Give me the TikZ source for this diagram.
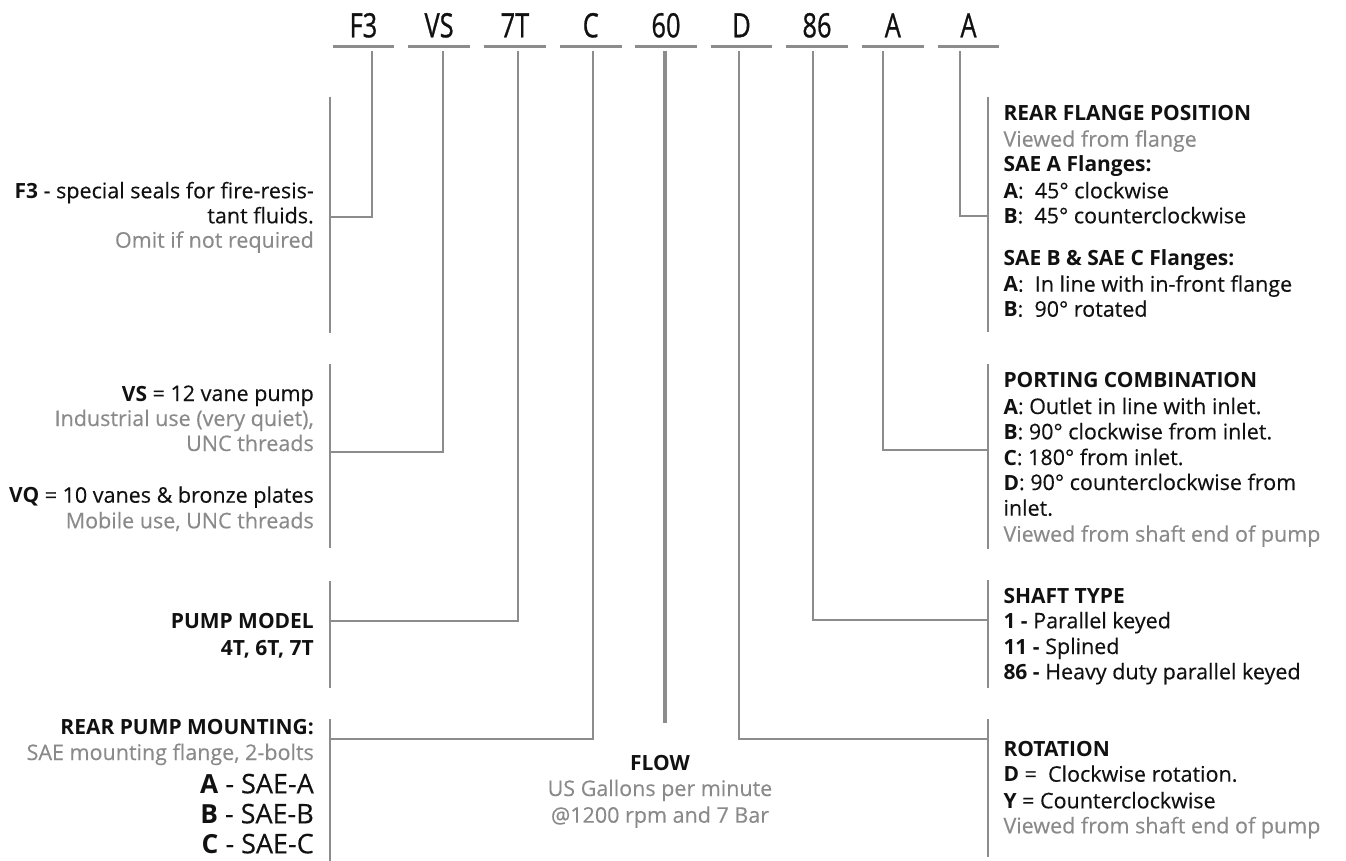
\documentclass[tikz,border=0pt]{standalone}
\usepackage{fontspec}
\setmainfont{Open Sans}[UprightFeatures={FakeBold=0.3}, BoldFeatures={Scale=0.975}]
\newfontfamily\codefont{Open Sans}[FakeBold=0.9]
\definecolor{ln}{HTML}{8C8C8C}
\definecolor{gt}{HTML}{8A8A8A}
\definecolor{bk}{HTML}{111111}
\newcommand{\cnd}[1]{\scalebox{0.76}[1]{#1}}
\tikzset{
  codetxt/.style={anchor=base, inner sep=0pt, text=bk, font=\codefont\fontsize{33.5}{33}\selectfont},
  uline/.style={draw=ln, line width=3pt},
  wire/.style={draw=ln, line width=2.2pt},
  fatwire/.style={draw=ln, line width=4pt},
  brk/.style={draw=ln, line width=2pt},
  lt/.style={anchor=base east, inner sep=0pt, text=bk, font=\fontsize{21.5}{26}\selectfont},
  lg/.style={lt, text=gt},
  lbig/.style={lt, font=\fontsize{27}{30}\selectfont},
  rt/.style={anchor=base west, inner sep=0pt, text=bk, font=\fontsize{21.5}{26}\selectfont},
  rg/.style={rt, text=gt},
  ct/.style={anchor=base, inner sep=0pt, text=bk, font=\fontsize{21.5}{26}\selectfont},
  cg/.style={ct, text=gt}
}
\begin{document}
\begin{tikzpicture}[x=1pt,y=-1pt]
\useasboundingbox (0,0) rectangle (1346,861);
% codes
\foreach \i/\cx/\t in {1/363.4/F3, 2/439.1/VS, 3/514.9/7T, 4/590.8/C, 5/666/60, 6/741.5/D, 7/817/86, 8/892.8/A, 9/968.5/A}{
  \node[codetxt] (c\i) at (\cx,37.3) {\cnd{\t}};
  \draw[uline] (\cx-30.8,46.7) -- (\cx+30.8,46.7);
}
% tap points below codes
\coordinate (t1) at (371.7,51);
\coordinate (t2) at (443.3,51);
\coordinate (t3) at (518.3,51);
\coordinate (t4) at (593.3,51);
\coordinate (t5) at (665,51);
\coordinate (t6) at (739.3,51);
\coordinate (t7) at (812.7,51);
\coordinate (t8) at (883.3,51);
\coordinate (t9) at (960,51);
% brackets
\coordinate (lb1a) at (330,97);  \coordinate (lb1b) at (330,333);
\coordinate (lb2a) at (330,364); \coordinate (lb2b) at (330,548);
\coordinate (lb3a) at (330,581); \coordinate (lb3b) at (330,688);
\coordinate (lb4a) at (330,719); \coordinate (lb4b) at (330,861);
\coordinate (rb1a) at (988,97);  \coordinate (rb1b) at (988,332);
\coordinate (rb2a) at (988,364); \coordinate (rb2b) at (988,549);
\coordinate (rb3a) at (988,580); \coordinate (rb3b) at (988,688);
\coordinate (rb4a) at (988,719); \coordinate (rb4b) at (988,857);
\foreach \b in {lb1,lb2,lb3,lb4,rb1,rb2,rb3,rb4}{\draw[brk] (\b a) -- (\b b);}
% connectors
\draw[wire] (t1) -- (371.7,217.3) -- (330,217.3);
\draw[wire] (t2) -- (443.3,451.7) -- (330,451.7);
\draw[wire] (t3) -- (518.3,620.7) -- (330,620.7);
\draw[wire] (t4) -- (593.3,739.3) -- (330,739.3);
\coordinate (flowend) at (665,723.3);
\draw[fatwire] (t5) -- (flowend);
\draw[wire] (t6) -- (739.3,739.3) -- (988,739.3);
\draw[wire] (t7) -- (812.7,620) -- (988,620);
\draw[wire] (t8) -- (883.3,450) -- (988,450);
\draw[wire] (t9) -- (960,216) -- (988,216);
% left texts
\node[lt] (f3a) at (314,198.3) {\textbf{F3} - special seals for fire-resis-};
\node[lt] (f3b) at (314,223.3) {tant fluids.};
\node[lg] (f3c) at (314,247.7) {Omit if not required};
\node[lt] (vsa) at (314,401) {\textbf{VS} = 12 vane pump};
\node[lg] (vsb) at (314,426) {Industrial use (very quiet),};
\node[lg] (vsc) at (314,451) {UNC threads};
\node[lt] (vqa) at (314,502.7) {\textbf{VQ} = 10 vanes \& bronze plates};
\node[lg] (vqb) at (314,528.3) {Mobile use, UNC threads};
\node[lt] (pma) at (314,628.3) {\textbf{PUMP MODEL}};
\node[lt] (pmb) at (314,655) {\textbf{4T, 6T, 7T}};
\node[lt] (rpa) at (314,734) {\textbf{REAR PUMP MOUNTING:}};
\node[lg] (rpb) at (314,760) {SAE mounting flange, 2-bolts};
\node[lbig] (rpc) at (314,793.3) {\textbf{A} - SAE-A};
\node[lbig] (rpd) at (314,823.3) {\textbf{B} - SAE-B};
\node[lbig] (rpe) at (314,853.3) {\textbf{C} - SAE-C};
% flow
\node[ct] (fla) at (660,770) {\textbf{FLOW}};
\node[cg] (flb) at (660,796) {US Gallons per minute};
\node[cg] (flc) at (660,822.7) {@1200 rpm and 7 Bar};
% right texts
\node[rt] (rfa) at (1003.3,120.7) {\textbf{REAR FLANGE POSITION}};
\node[rg] (rfb) at (1003.3,146.7) {Viewed from flange};
\node[rt] (rfc) at (1003.3,171.7) {\textbf{SAE A Flanges:}};
\node[rt] (rfd) at (1003.3,198.3) {\textbf{A}:\ \ 45° clockwise};
\node[rt] (rfe) at (1003.3,223.3) {\textbf{B}:\ \ 45° counterclockwise};
\node[rt] (rff) at (1003.3,265) {\textbf{SAE B \& SAE C Flanges:}};
\node[rt] (rfg) at (1003.3,291.7) {\textbf{A}:\ \ In line with in-front flange};
\node[rt] (rfh) at (1003.3,316.7) {\textbf{B}:\ \ 90° rotated};
\node[rt] (pca) at (1003.3,387.3) {\textbf{PORTING COMBINATION}};
\node[rt] (pcb) at (1003.3,414) {\textbf{A}: Outlet in line with inlet.};
\node[rt] (pcc) at (1003.3,439.3) {\textbf{B}: 90° clockwise from inlet.};
\node[rt] (pcd) at (1003.3,465) {\textbf{C}: 180° from inlet.};
\node[rt] (pce) at (1003.3,490) {\textbf{D}: 90° counterclockwise from};
\node[rt] (pcf) at (1003.3,515.7) {inlet.};
\node[rg] (pcg) at (1003.3,541.7) {Viewed from shaft end of pump};
\node[rt] (sta) at (1003.3,603.3) {\textbf{SHAFT TYPE}};
\node[rt] (stb) at (1003.3,628.3) {\textbf{1 -} Parallel keyed};
\node[rt] (stc) at (1003.3,654) {\textbf{11 -} Splined};
\node[rt] (std) at (1003.3,679.3) {\textbf{86 -} Heavy duty parallel keyed};
\node[rt] (roa) at (1003.3,756.7) {\textbf{ROTATION}};
\node[rt] (rob) at (1003.3,781.7) {\textbf{D} =\ \ Clockwise rotation.};
\node[rt] (roc) at (1003.3,808.3) {\textbf{Y} = Counterclockwise};
\node[rg] (rod) at (1003.3,833.3) {Viewed from shaft end of pump};
\end{tikzpicture}
\end{document}
